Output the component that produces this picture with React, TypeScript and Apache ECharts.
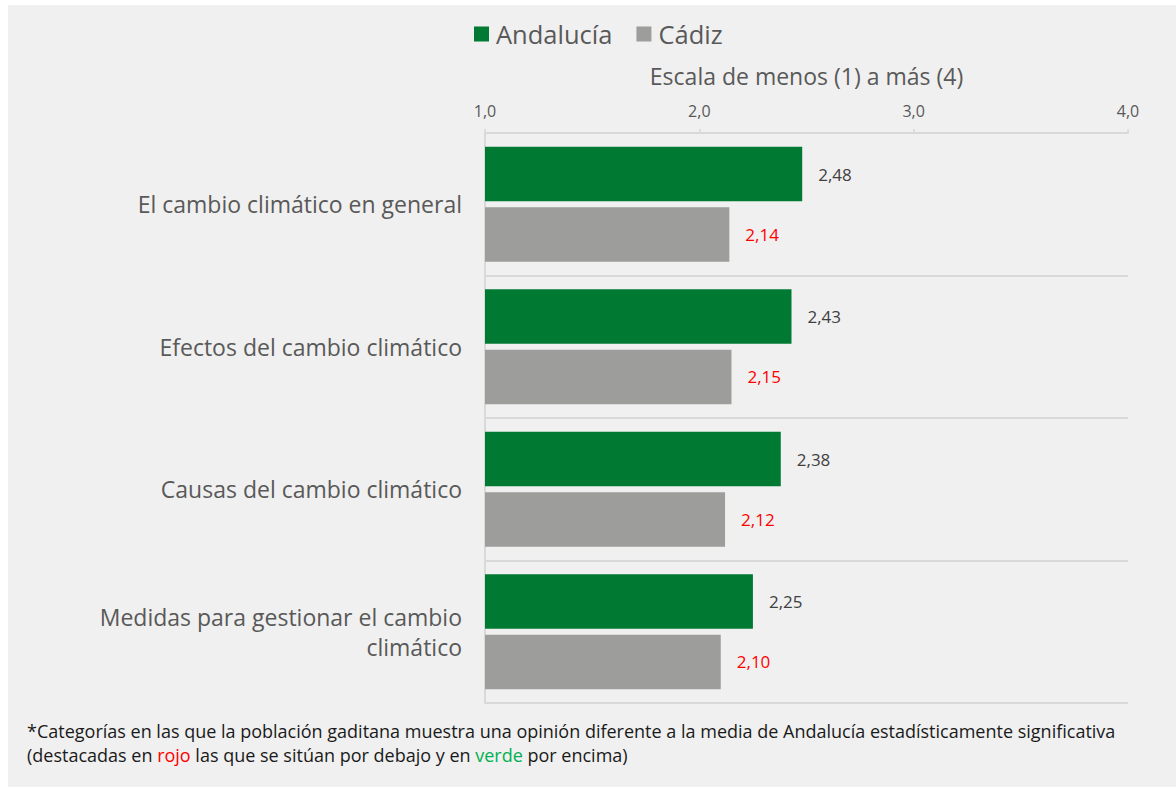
import React, { useEffect, useRef } from "react";
import * as echarts from "echarts";

const categories = [
  "El cambio climático en general",
  "Efectos del cambio climático",
  "Causas del cambio climático",
  "Medidas para gestionar el cambio\nclimático",
];
const andalucia = [2.48, 2.43, 2.38, 2.25];
const cadiz = [2.14, 2.15, 2.12, 2.1];
const seriesNames = ["Andalucía", "Cádiz"];
const axisName = "Escala de menos (1) a más (4)";
const footLine1 =
  "*Categorías en las que la población gaditana muestra una opinión diferente a la media de Andalucía estadísticamente significativa";
const footLine2 =
  "(destacadas en {r|rojo} las que se sitúan por debajo y en {g|verde} por encima)";

const FONT = "'Open Sans', 'Noto Sans', sans-serif";
const fmt = (v: number, d: number) => v.toFixed(d).replace(".", ",");

export default function App() {
  const ref = useRef<HTMLDivElement>(null);
  useEffect(() => {
    if (!ref.current) return;
    const chart = echarts.init(ref.current, undefined, { renderer: "svg" });
    chart.setOption({
      animation: false,
      backgroundColor: "#f0f0f0",
      textStyle: { fontFamily: FONT },
      legend: {
        top: 16,
        left: 466,
        padding: 0,
        itemWidth: 15,
        itemHeight: 15,
        itemGap: 24,
        icon: "rect",
        textStyle: { fontSize: 25.5, color: "#595959", fontFamily: FONT, padding: [0, 0, 0, 2] },
        data: seriesNames,
      },
      grid: { left: 477, right: 48, top: 128, bottom: 84 },
      xAxis: {
        type: "value",
        position: "top",
        min: 1,
        max: 4,
        interval: 1,
        name: axisName,
        nameLocation: "middle",
        nameGap: 46,
        nameTextStyle: { fontSize: 23, color: "#595959", fontFamily: FONT },
        axisLine: { show: true, lineStyle: { color: "#d9d9d9", width: 2 } },
        axisTick: { show: true, length: 4, lineStyle: { color: "#d9d9d9", width: 1.5 } },
        splitLine: { show: false },
        axisLabel: {
          fontSize: 16,
          color: "#595959",
          margin: 14,
          formatter: (v: number) => fmt(v, 1),
        },
      },
      yAxis: {
        type: "category",
        inverse: true,
        data: categories,
        axisLine: { show: true, lineStyle: { color: "#d9d9d9", width: 2 } },
        axisTick: { show: false },
        splitLine: { show: true, lineStyle: { color: "#d9d9d9", width: 2 } },
        axisLabel: {
          fontSize: 23,
          color: "#595959",
          margin: 23,
          lineHeight: 30,
          align: "right",
        },
      },
      series: [
        {
          name: seriesNames[0],
          type: "bar",
          data: andalucia,
          barWidth: 54.5,
          barGap: "11%",
          itemStyle: { color: "#007a33" },
          label: {
            show: true,
            position: "right",
            distance: 16,
            fontSize: 17,
            color: "#404040",
            formatter: (p: any) => fmt(p.value, 2),
          },
        },
        {
          name: seriesNames[1],
          type: "bar",
          data: cadiz,
          barWidth: 54.5,
          barGap: "11%",
          itemStyle: { color: "#9d9d9b" },
          label: {
            show: true,
            position: "right",
            distance: 16,
            fontSize: 17,
            color: "#ff0000",
            formatter: (p: any) => fmt(p.value, 2),
          },
        },
      ],
      graphic: [
        {
          type: "text",
          left: 19,
          top: 714,
          style: {
            text: footLine1 + "\n" + footLine2,
            fontSize: 18,
            lineHeight: 24,
            fill: "#1a1a1a",
            fontFamily: FONT,
            rich: {
              r: { fill: "#ff0000", fontSize: 18, lineHeight: 24, fontFamily: FONT },
              g: { fill: "#00b050", fontSize: 18, lineHeight: 24, fontFamily: FONT },
            },
          },
        },
      ],
    });
    return () => chart.dispose();
  }, []);
  return (
    <div
      style={{
        position: "absolute",
        left: 8,
        top: 5,
        width: 1168,
        height: 782,
        background: "#f0f0f0",
      }}
    >
      <div ref={ref} style={{ width: 1168, height: 782 }} />
    </div>
  );
}
